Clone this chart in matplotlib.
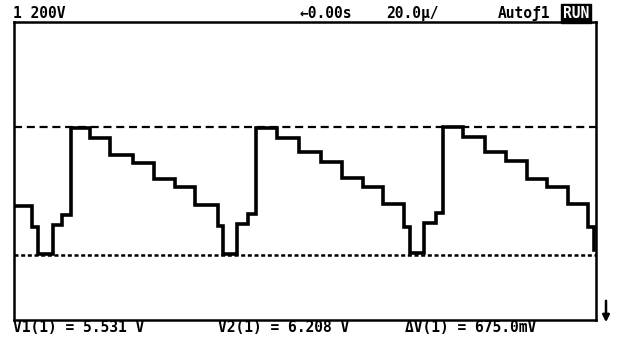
import matplotlib
matplotlib.use("Agg")
import matplotlib.pyplot as plt

plt.rcParams['lines.scale_dashes'] = False

# Time axis: 10 divisions x 20 us ; Voltage: 200 mV/div
t_us = [0.0, 6.19, 8.25, 13.40, 16.49, 19.59, 26.12, 32.99, 40.89, 48.11,
        55.33, 62.20, 70.10, 71.82, 76.63, 80.41, 83.16, 90.38, 97.94,
        105.50, 112.71, 119.93, 126.80, 134.02, 136.08, 140.89, 145.02,
        147.42, 154.30, 161.86, 169.07, 176.29, 183.16, 190.38, 197.25,
        199.31]
v_volts = [5.789, 5.679, 5.536, 5.689, 5.742, 6.201, 6.148, 6.058, 6.016,
           5.932, 5.890, 5.795, 5.684, 5.536, 5.694, 5.747, 6.201, 6.148,
           6.074, 6.021, 5.937, 5.890, 5.800, 5.679, 5.541, 5.700, 5.752,
           6.206, 6.153, 6.074, 6.027, 5.932, 5.890, 5.800, 5.679, 5.557]

v1_cursor = 5.531
v2_cursor = 6.206
t_range = (0.0, 200.0)
v_range = (5.188, 6.760)

top_labels = ["1 200V", "\u21900.00s", "20.0\u00b5/", "Auto\u01921"]
run_label = "RUN"
bottom_labels = ["V1(1) = 5.531 V", "V2(1) = 6.208 V", "\u0394V(1) = 675.0mV"]

W, H = 620, 342
fig = plt.figure(figsize=(W / 100, H / 100), dpi=100)
ax = fig.add_axes([14 / W, 1 - 320 / H, (596 - 14) / W, (320 - 22) / H])
ax.set_xlim(*t_range)
ax.set_ylim(*v_range)
ax.set_xticks([])
ax.set_yticks([])
for s in ax.spines.values():
    s.set_linewidth(1.8)
    s.set_color('black')

ax.plot(t_us, v_volts, drawstyle='steps-post', color='black', lw=2.6,
        solid_joinstyle='miter')
ax.axhline(v2_cursor, color='black', lw=1.6, dashes=(5.8, 3.4))
ax.axhline(v1_cursor, color='black', lw=1.8, dashes=(2.9, 1.9))

font = dict(family='DejaVu Sans Mono', fontweight='bold', fontsize=10.5,
            color='black')

def fx(px):
    return px / W

def fy(py):
    return 1 - py / H

top_x = [13, 300, 386, 498]
for lbl, x in zip(top_labels, top_x):
    fig.text(fx(x), fy(18), lbl, ha='left', va='baseline', **font)
fig.text(fx(563), fy(18), run_label, ha='left', va='baseline',
         bbox=dict(boxstyle='square,pad=0.15', fc='black', ec='black'),
         **{**font, 'color': 'white'})

bot_x = [13, 218, 405]
for lbl, x in zip(bottom_labels, bot_x):
    fig.text(fx(x), fy(332), lbl, ha='left', va='baseline', **font)

# channel marker at right edge
ax.annotate("", xy=(fx(606), fy(325)), xytext=(fx(606), fy(298)),
            xycoords='figure fraction', textcoords='figure fraction',
            arrowprops=dict(arrowstyle='-|>', color='black', lw=1.8,
                            mutation_scale=10), annotation_clip=False)

fig.savefig("out.png", dpi=100, facecolor='white')
